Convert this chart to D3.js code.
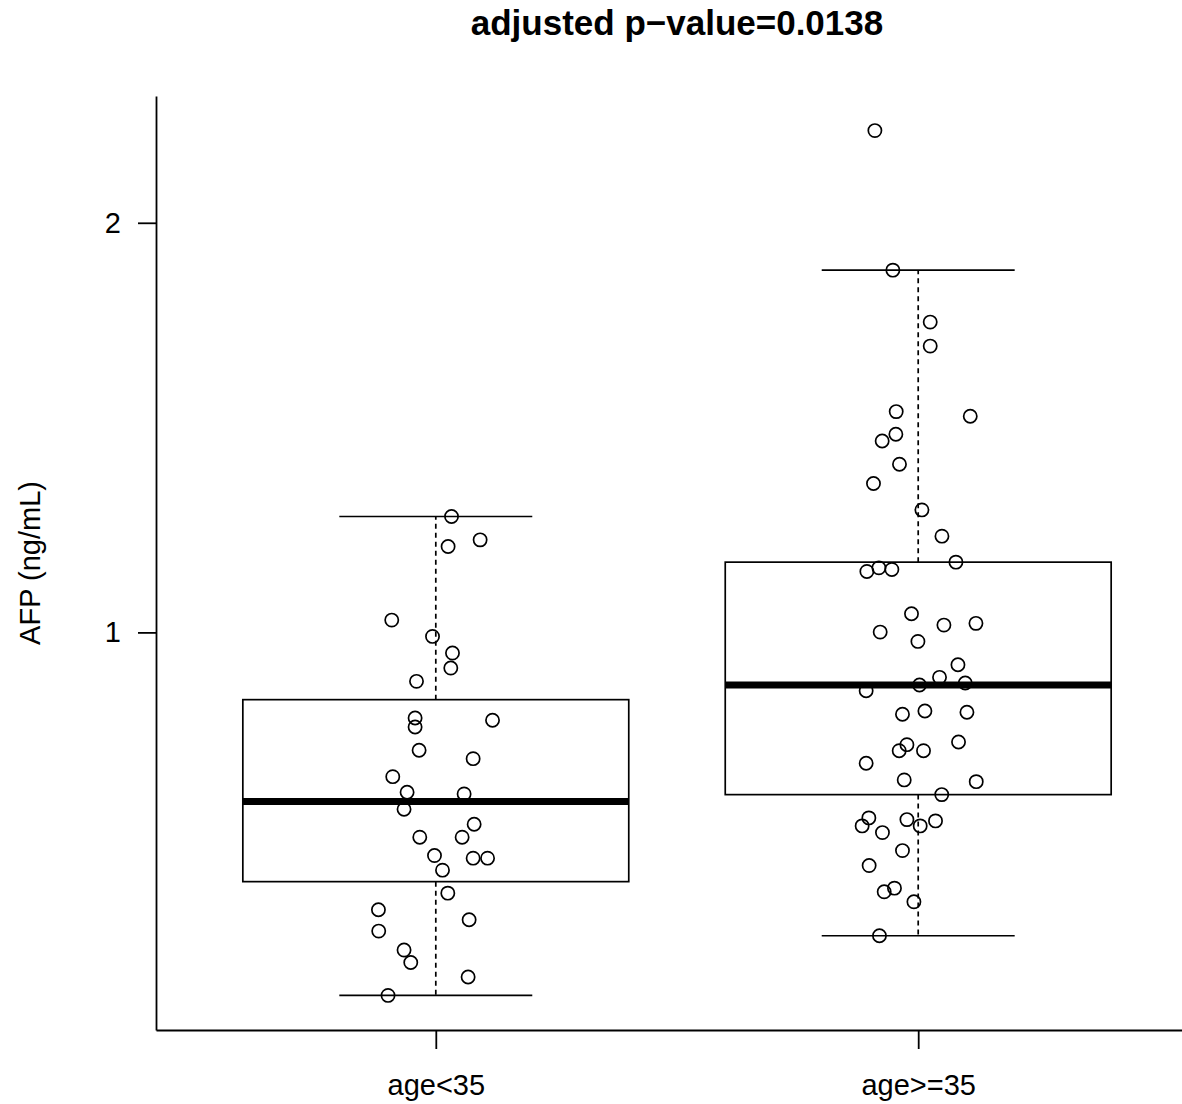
<!DOCTYPE html>
<html lang="en">
<head>
  <meta charset="UTF-8">
  <title>AFP by age</title>
  <script src="https://cdn.jsdelivr.net/npm/d3@7/dist/d3.min.js"></script>
  <style>
    body { margin: 0; background: #fff; }
    svg { display: block; font-family: "Liberation Sans", Arial, sans-serif; }
  </style>
</head>
<body>
  <svg class="svg"></svg>
  <script>
    const categories = ['age<35', 'age>=35'];
    const yTicks = [1, 2];
    const title = 'adjusted p\u2212value=0.0138';
    const yLabel = 'AFP (ng/mL)';

    // AFP values
    const afpYoung = [1.2829, 1.2259, 1.2098, 1.0300, 0.9902, 0.9495, 0.9129, 0.8805,
      0.7910, 0.7854, 0.7690, 0.7122, 0.6917, 0.6478, 0.6098, 0.6056,
      0.5683, 0.5317, 0.5000, 0.5000, 0.4551, 0.4488, 0.4488, 0.4195,
      0.3634, 0.3227, 0.2983, 0.2707, 0.2244, 0.1941, 0.1585, 0.1137];
    // horizontal jitter (category units) of each point
    const jitterYoung = [0.0326, 0.0919, 0.0255, -0.0913, -0.0068, 0.0346, 0.0311, -0.0400,
      -0.0429, 0.1176, -0.0429, -0.0346, 0.0774, -0.0892, -0.0595, 0.0587,
      -0.0658, 0.0795, -0.0332, 0.0546, -0.0027, 0.0774, 0.1073, 0.0139,
      0.0249, -0.1189, 0.0691, -0.1183, -0.0658, -0.0519, 0.0670, -0.0990];

    const afpOld = [2.2251, 1.8844, 1.7576, 1.6990, 1.5390, 1.5276, 1.4837, 1.4673,
      1.4105, 1.3634, 1.2990, 1.2349, 1.1715, 1.1576, 1.1537, 1.1488,
      1.0454, 1.0220, 1.0178, 1.0007, 0.9780, 0.9210, 0.8902, 0.8763,
      0.8715, 0.8576, 0.8080, 0.8049, 0.8000, 0.7324, 0.7259, 0.7112,
      0.7112, 0.6805, 0.6398, 0.6356, 0.6039, 0.5471, 0.5429, 0.5398,
      0.5276, 0.5276, 0.5112, 0.4673, 0.4307, 0.3756, 0.3666, 0.3422, 0.2593];
    const jitterOld = [-0.0898, -0.0525, 0.0249, 0.0249, -0.0456, 0.1079, -0.0463, -0.0747,
      -0.0388, -0.0927, 0.0077, 0.0492, 0.0782, -0.0815, -0.0546, -0.1064,
      -0.0139, 0.1197, 0.0533, -0.0788, -0.0006, 0.0824, 0.0442, 0.0975,
      0.0027, -0.1079, 0.0139, 0.1010, -0.0326, 0.0836, -0.0234, -0.0394,
      0.0110, -0.1079, -0.0290, 0.1203, 0.0488, -0.1023, -0.0234, 0.0359,
      -0.1162, 0.0041, -0.0741, -0.0326, -0.1017, -0.0492, -0.0705, -0.0089, -0.0803];

    const groups = [
      { pos: 1, values: afpYoung, jitter: jitterYoung },
      { pos: 2, values: afpOld, jitter: jitterOld }
    ];

    const w = 1182;
    const h = 1104;
    const plotLeft = 156, plotRight = 1198, plotTop = 96, plotBottom = 1030;

    // R style boxplot statistics (Tukey hinges, 1.5 IQR whiskers)
    function fivenum(arr) {
      const x = arr.slice().sort(d3.ascending);
      const n = x.length;
      const n4 = Math.floor((n + 3) / 2) / 2;
      return [1, n4, (n + 1) / 2, n + 1 - n4, n]
        .map(i => 0.5 * (x[Math.floor(i) - 1] + x[Math.ceil(i) - 1]));
    }
    groups.forEach(g => {
      const f = fivenum(g.values);
      const iqr = f[3] - f[1];
      g.q1 = f[1]; g.med = f[2]; g.q3 = f[3];
      g.lo = d3.min(g.values.filter(v => v >= f[1] - 1.5 * iqr));
      g.hi = d3.max(g.values.filter(v => v <= f[3] + 1.5 * iqr));
    });

    const all = afpYoung.concat(afpOld);
    const ext = d3.extent(all);
    const pad = (ext[1] - ext[0]) * 0.04;

    const xScale = d3.scaleLinear()
      .domain([0.42, 2.58])
      .range([plotLeft, plotRight]);

    const yScale = d3.scaleLinear()
      .domain([ext[0] - pad, ext[1] + pad])
      .range([plotBottom, plotTop]);

    const svg = d3.select('.svg')
      .attr('width', w)
      .attr('height', h);

    const lw = 1.7;

    // boxes
    const box = svg.append('g').selectAll('g')
      .data(groups)
      .enter()
      .append('g');

    box.append('line')
      .attr('x1', d => xScale(d.pos)).attr('x2', d => xScale(d.pos))
      .attr('y1', d => yScale(d.q3)).attr('y2', d => yScale(d.hi))
      .attr('stroke', '#000').attr('stroke-width', lw).attr('stroke-dasharray', '5,4');
    box.append('line')
      .attr('x1', d => xScale(d.pos)).attr('x2', d => xScale(d.pos))
      .attr('y1', d => yScale(d.q1)).attr('y2', d => yScale(d.lo))
      .attr('stroke', '#000').attr('stroke-width', lw).attr('stroke-dasharray', '5,4');

    ['hi', 'lo'].forEach(k => {
      box.append('line')
        .attr('x1', d => xScale(d.pos - 0.2)).attr('x2', d => xScale(d.pos + 0.2))
        .attr('y1', d => yScale(d[k])).attr('y2', d => yScale(d[k]))
        .attr('stroke', '#000').attr('stroke-width', lw);
    });

    box.append('rect')
      .attr('x', d => xScale(d.pos - 0.4))
      .attr('width', d => xScale(d.pos + 0.4) - xScale(d.pos - 0.4))
      .attr('y', d => yScale(d.q3))
      .attr('height', d => yScale(d.q1) - yScale(d.q3))
      .attr('fill', 'none').attr('stroke', '#000').attr('stroke-width', lw);

    box.append('line')
      .attr('x1', d => xScale(d.pos - 0.4)).attr('x2', d => xScale(d.pos + 0.4))
      .attr('y1', d => yScale(d.med)).attr('y2', d => yScale(d.med))
      .attr('stroke', '#000').attr('stroke-width', 7);

    // jittered points
    groups.forEach(g => {
      svg.append('g').selectAll('circle')
        .data(g.values)
        .enter()
        .append('circle')
        .attr('cx', (d, i) => xScale(g.pos + g.jitter[i]))
        .attr('cy', d => yScale(d))
        .attr('r', 6.6)
        .attr('fill', 'none')
        .attr('stroke', '#000')
        .attr('stroke-width', 1.7);
    });

    // axes
    const xAxis = d3.axisBottom(xScale)
      .tickValues([1, 2])
      .tickFormat((d, i) => categories[i])
      .tickSize(19).tickSizeOuter(0).tickPadding(25);
    const yAxis = d3.axisLeft(yScale)
      .tickValues(yTicks)
      .tickFormat(d3.format('d'))
      .tickSize(18).tickSizeOuter(0).tickPadding(17);

    const gx = svg.append('g')
      .attr('transform', 'translate(0,' + plotBottom + ')')
      .call(xAxis);
    const gy = svg.append('g')
      .attr('transform', 'translate(' + plotLeft + ',0)')
      .call(yAxis);

    [gx, gy].forEach(g => {
      g.selectAll('path, line').attr('stroke', '#000').attr('stroke-width', 1.8);
      g.selectAll('text').attr('fill', '#000').style('font-size', '29px')
        .style('font-family', '"Liberation Sans", Arial, sans-serif');
    });

    svg.append('text')
      .attr('x', (plotLeft + plotRight) / 2)
      .attr('y', 35)
      .attr('text-anchor', 'middle')
      .style('font-size', '35px')
      .style('font-weight', 'bold')
      .text(title);

    svg.append('text')
      .attr('transform', 'translate(40,' + ((plotTop + plotBottom) / 2) + ') rotate(-90)')
      .attr('text-anchor', 'middle')
      .style('font-size', '29px')
      .text(yLabel);
  </script>
</body>
</html>
